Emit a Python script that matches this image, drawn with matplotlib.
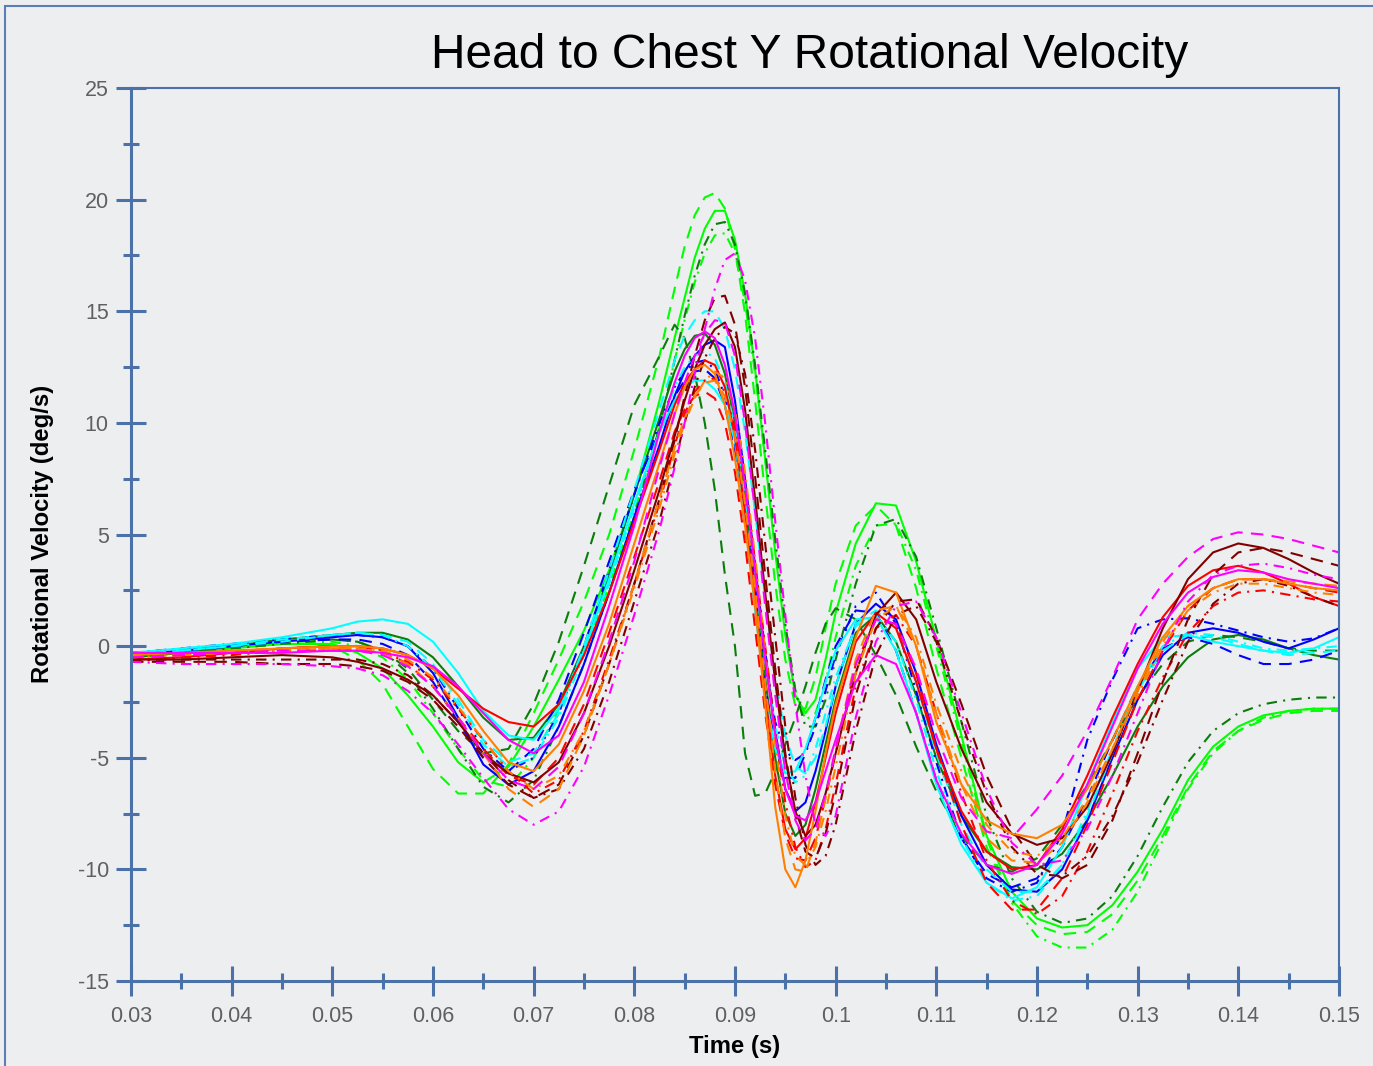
from matplotlib import pyplot as plt
from matplotlib.ticker import MultipleLocator
from matplotlib.patches import Rectangle
import numpy as np

# sample times (s) - denser around the big peak and the trough after it
time = [0.030, 0.035, 0.040, 0.045, 0.050, 0.0525, 0.055, 0.0575, 0.060, 0.0625,
        0.065, 0.0675, 0.070, 0.0725, 0.075, 0.0775, 0.080, 0.0825,
        0.084, 0.085, 0.086, 0.087, 0.088, 0.089, 0.090, 0.091, 0.092, 0.093,
        0.094, 0.095, 0.096, 0.097, 0.098, 0.099, 0.100,
        0.102, 0.104, 0.106, 0.108, 0.110,
        0.1125, 0.115, 0.1175, 0.120, 0.1225, 0.125, 0.1275, 0.130,
        0.1325, 0.135, 0.1375, 0.140, 0.1425, 0.145, 0.1475, 0.150]

# rotational velocity (deg/s), one list per test
lime_solid = [-0.5, -0.3, -0.1, 0.1, 0.1, -0.3, -1.0, -2.2, -3.6, -5.2, -6.1, -5.4, -3.6, -1.5, 0.7, 3.4, 6.8, 11.0,
              13.8, 15.6, 17.4, 18.7, 19.5, 19.5, 18.2, 15.8, 12.4, 8.4, 4.2, 0.5, -2.2, -3.0, -2.4, -0.6, 1.5,
              4.6, 6.4, 6.3, 3.8, 0.3,
              -4.0, -8.5, -11.0, -12.2, -12.6, -12.5, -11.6, -10.1, -8.2, -6.0, -4.5, -3.6, -3.1, -2.9, -2.8, -2.8]
lime_dashed = [-0.4, -0.2, 0.0, 0.2, 0.0, -0.6, -1.7, -3.6, -5.5, -6.6, -6.6, -5.3, -3.0, -0.6, 2.0, 5.0, 8.8, 13.0,
               16.0, 17.9, 19.3, 20.1, 20.3, 19.6, 17.8, 14.9, 11.0, 6.8, 2.8, -0.6, -2.7, -2.8, -1.4, 0.8, 2.8,
               5.4, 6.3, 5.4, 2.6, -1.0,
               -5.0, -9.0, -11.4, -12.5, -12.9, -12.8, -12.0, -10.5, -8.5, -6.3, -4.7, -3.8, -3.3, -3.0, -2.9, -2.9]
lime_dashdot = [-0.5, -0.3, -0.1, 0.1, 0.2, 0.0, -0.5, -1.5, -3.0, -4.6, -6.0, -6.3, -5.0, -2.8, -0.3, 2.7, 6.0, 9.8,
                12.8, 14.6, 16.3, 17.6, 18.4, 18.5, 17.6, 15.4, 12.2, 8.4, 4.4, 0.8, -2.0, -3.3, -3.0, -1.6, 0.4,
                3.6, 5.4, 5.5, 3.4, 0.0,
                -4.3, -8.6, -11.5, -13.0, -13.5, -13.5, -12.7, -11.0, -8.7, -6.4, -4.8, -3.8, -3.2, -2.9, -2.8, -2.8]
dkgreen_solid = [-0.5, -0.3, 0.0, 0.3, 0.5, 0.6, 0.6, 0.3, -0.5, -1.8, -3.2, -4.2, -4.1, -2.6, 0.0, 3.2, 6.8, 10.2,
                 12.3, 13.3, 13.9, 14.0, 13.5, 12.2, 10.0, 6.8, 2.8, -1.4, -5.0, -7.5, -8.5, -8.0, -6.4, -4.4, -2.4,
                 0.6, 1.4, 0.2, -2.2, -5.0,
                 -7.6, -9.2, -9.9, -10.0, -9.3, -7.8, -5.8, -3.6, -1.8, -0.5, 0.3, 0.5, 0.3, -0.1, -0.4, -0.6]
dkgreen_dashed = [-0.5, -0.3, 0.0, 0.2, 0.3, 0.2, -0.2, -1.0, -2.4, -3.8, -4.8, -4.6, -2.6, 0.2, 3.6, 7.2, 10.8, 13.0,
                  14.4, 13.8, 12.2, 10.0, 7.0, 3.2, 0.0, -4.8, -6.7, -6.6, -5.6, -4.4, -3.2, -1.8, -0.3, 1.0, 1.7,
                  1.2, -0.4, -2.2, -4.5, -6.5,
                  -8.5, -9.8, -10.1, -9.5, -8.0, -6.2, -4.2, -2.3, -0.8, 0.2, 0.5, 0.4, 0.2, -0.1, -0.2, -0.2]
dkgreen_dashdot = [-0.5, -0.3, -0.1, 0.1, 0.3, 0.2, -0.2, -1.2, -2.8, -4.6, -6.3, -7.0, -6.0, -3.6, -0.8, 2.4, 5.8, 9.8,
                   12.8, 14.8, 16.6, 18.0, 18.9, 19.0, 18.0, 15.8, 12.6, 8.8, 4.8, 1.0, -2.0, -3.6, -3.6, -2.4, -0.6,
                   2.8, 5.4, 5.7, 4.0, 0.8,
                   -3.4, -7.6, -10.4, -11.9, -12.4, -12.2, -11.2, -9.4, -7.2, -5.2, -3.8, -3.0, -2.6, -2.4, -2.3, -2.3]
blue_solid = [-0.4, -0.2, 0.0, 0.2, 0.4, 0.5, 0.4, 0.0, -1.2, -3.2, -5.3, -6.2, -5.6, -3.6, -0.8, 2.4, 5.8, 9.0,
              11.2, 12.3, 13.0, 13.5, 13.7, 13.4, 11.0, 7.5, 3.6, -0.2, -3.8, -6.4, -7.4, -7.0, -5.6, -3.8, -1.8,
              1.0, 1.9, 1.2, -1.2, -4.4,
              -7.6, -9.8, -10.9, -11.0, -10.0, -7.8, -5.0, -2.4, -0.4, 0.6, 0.8, 0.6, 0.2, -0.1, 0.3, 0.8]
blue_dashed = [-0.4, -0.2, 0.0, 0.2, 0.3, 0.3, 0.1, -0.4, -1.6, -3.4, -5.0, -5.6, -4.6, -2.4, 0.6, 3.8, 7.0, 9.6,
               11.2, 11.9, 12.3, 12.4, 12.0, 10.8, 8.6, 5.4, 1.8, -1.8, -4.5, -5.9, -5.9, -4.8, -3.2, -1.5, 0.0,
               1.6, 1.5, -0.2, -3.0, -6.0,
               -8.6, -10.2, -10.8, -10.4, -9.0, -6.8, -4.2, -1.8, -0.1, 0.4, 0.1, -0.4, -0.8, -0.8, -0.6, -0.2]
blue_dashdot = [-0.3, -0.1, 0.1, 0.3, 0.5, 0.5, 0.4, 0.0, -1.0, -2.8, -4.6, -5.6, -5.0, -3.0, 0.0, 3.4, 6.8, 10.0,
                11.6, 12.3, 12.7, 12.8, 12.4, 11.2, 9.0, 6.0, 2.6, -0.8, -3.4, -4.7, -5.1, -4.8, -3.6, -2.0, -0.4,
                1.8, 2.4, 1.0, -2.0, -5.2,
                -8.6, -10.4, -11.0, -10.6, -8.4, -4.2, -1.5, 0.8, 1.2, 1.25, 1.0, 0.7, 0.4, 0.2, 0.35, 0.8]
cyan_solid = [-0.3, -0.1, 0.1, 0.4, 0.8, 1.1, 1.2, 1.0, 0.2, -1.2, -2.9, -4.0, -4.2, -2.8, -0.2, 3.0, 6.4, 9.6,
              11.0, 11.6, 11.9, 11.9, 11.5, 10.8, 9.2, 5.8, 1.6, -2.2, -4.6, -5.7, -5.6, -4.6, -3.2, -1.6, -0.2,
              1.2, 1.3, -0.2, -3.0, -6.2,
              -8.9, -10.6, -11.3, -10.8, -9.0, -6.2, -3.4, -1.0, 0.4, 0.5, 0.2, 0.0, -0.2, -0.3, -0.1, 0.4]
cyan_dashed = [-0.4, -0.2, 0.0, 0.3, 0.5, 0.6, 0.5, 0.2, -0.8, -2.4, -4.2, -5.2, -4.8, -3.0, 0.0, 3.4, 7.0, 10.6,
               12.8, 13.9, 14.6, 15.0, 15.0, 14.2, 12.4, 9.6, 6.0, 2.2, -1.4, -4.0, -5.4, -5.7, -5.0, -3.6, -1.8,
               1.0, 1.6, 0.8, -1.6, -4.8,
               -8.0, -10.0, -11.0, -11.0, -9.8, -7.6, -4.8, -2.0, -0.2, 0.5, 0.4, 0.1, -0.2, -0.4, -0.3, -0.2]
cyan_dashdot = [-0.4, -0.2, 0.0, 0.2, 0.5, 0.6, 0.5, 0.0, -1.0, -2.6, -4.4, -5.4, -5.0, -3.2, -0.4, 2.8, 6.2, 9.6,
                11.6, 12.5, 13.0, 13.2, 12.9, 11.8, 9.8, 6.8, 3.2, -0.6, -3.6, -5.4, -6.1, -5.8, -4.6, -3.0, -1.4,
                0.9, 1.4, 0.2, -2.4, -5.6,
                -8.6, -10.6, -11.4, -11.2, -9.8, -7.4, -4.6, -1.8, 0.0, 0.6, 0.5, 0.2, -0.1, -0.2, -0.1, 0.0]
red_solid = [-0.6, -0.5, -0.3, -0.1, 0.0, 0.0, -0.1, -0.4, -1.0, -1.9, -2.8, -3.4, -3.6, -2.6, -0.4, 2.4, 5.6, 8.8,
             10.8, 11.8, 12.4, 12.8, 12.6, 11.6, 9.4, 6.0, 2.0, -2.2, -5.8, -8.2, -9.1, -8.6, -7.0, -5.0, -3.0,
             0.2, 1.5, 0.8, -1.6, -4.6,
             -7.4, -9.2, -10.0, -9.8, -8.2, -5.8, -3.2, -0.8, 1.3, 2.7, 3.4, 3.6, 3.3, 2.8, 2.2, 1.8]
red_dashed = [-0.6, -0.4, -0.3, -0.1, 0.0, 0.0, -0.2, -0.8, -1.8, -3.2, -4.6, -5.8, -6.2, -5.0, -2.6, 0.6, 4.0, 7.4,
              9.6, 10.6, 11.2, 11.4, 11.1, 10.0, 7.8, 4.6, 0.8, -3.0, -6.2, -8.4, -9.5, -9.6, -8.6, -6.8, -4.8,
              -0.8, 1.2, 1.0, -1.2, -4.6,
              -8.0, -10.6, -11.8, -11.8, -10.4, -8.0, -5.2, -2.4, -0.2, 1.6, 2.6, 3.0, 3.0, 2.8, 2.6, 2.4]
red_dashdot = [-0.7, -0.5, -0.4, -0.2, -0.2, -0.2, -0.3, -0.7, -1.5, -2.8, -4.2, -5.6, -6.6, -6.0, -3.8, -0.6, 2.8, 6.4,
               9.0, 10.4, 11.4, 11.9, 12.0, 11.4, 9.8, 7.2, 3.8, 0.0, -3.8, -7.0, -9.0, -9.9, -9.6, -8.2, -6.2,
               -1.8, 0.8, 1.4, 0.0, -3.0,
               -6.6, -9.6, -11.4, -12.0, -11.2, -9.2, -6.6, -3.8, -1.4, 0.6, 1.8, 2.4, 2.5, 2.3, 2.1, 2.0]
dkred_solid = [-0.6, -0.6, -0.5, -0.4, -0.5, -0.7, -1.0, -1.5, -2.2, -3.4, -4.8, -5.7, -6.1, -5.2, -3.0, 0.0, 3.4, 7.0,
               9.4, 11.0, 12.4, 13.5, 14.2, 14.5, 13.4, 10.6, 6.6, 2.4, -1.6, -5.0, -7.4, -8.5, -8.0, -6.6, -4.8,
               -1.2, 1.4, 2.4, 1.2, -1.6,
               -4.6, -7.0, -8.4, -8.9, -8.6, -7.2, -4.8, -2.0, 0.8, 3.0, 4.2, 4.6, 4.4, 3.9, 3.3, 2.8]
dkred_dashed = [-0.7, -0.7, -0.7, -0.8, -0.8, -0.9, -1.1, -1.6, -2.4, -3.6, -5.0, -6.2, -6.8, -6.2, -4.0, -0.8, 2.8, 6.6,
                9.2, 11.2, 13.0, 14.6, 15.6, 15.7, 14.4, 11.6, 7.6, 3.2, -1.0, -4.8, -7.6, -9.2, -9.5, -8.4, -6.6,
                -2.2, 0.8, 2.0, 2.1, 0.4,
                -2.6, -5.8, -8.2, -9.8, -10.4, -9.8, -7.8, -4.8, -1.6, 1.2, 3.2, 4.2, 4.4, 4.2, 3.9, 3.6]
dkred_dashdot = [-0.6, -0.6, -0.6, -0.6, -0.6, -0.6, -0.8, -1.3, -2.2, -3.4, -4.8, -6.0, -6.8, -6.4, -4.6, -1.6, 2.0, 5.6,
                 8.2, 10.0, 11.6, 12.9, 13.8, 14.3, 14.0, 12.2, 8.8, 4.6, 0.4, -3.6, -6.8, -8.9, -9.8, -9.4, -8.0,
                 -3.8, -0.4, 1.4, 1.8, 0.2,
                 -3.4, -6.6, -9.0, -10.2, -10.3, -9.4, -7.6, -5.2, -2.4, 0.2, 1.9, 2.8, 3.0, 2.7, 2.2, 1.8]
orange_solid = [-0.4, -0.3, -0.2, -0.1, 0.0, 0.0, -0.1, -0.4, -1.0, -2.2, -3.8, -5.2, -5.6, -4.4, -2.0, 1.0, 4.6, 8.2,
                10.4, 11.6, 12.4, 12.6, 12.2, 10.8, 8.4, 5.4, 1.8, -2.6, -7.2, -10.0, -10.8, -9.6, -7.4, -4.8, -2.6,
                0.4, 2.7, 2.4, 0.0, -3.4,
                -6.2, -7.8, -8.4, -8.6, -8.0, -6.4, -4.2, -1.8, 0.4, 1.8, 2.6, 3.0, 3.0, 2.8, 2.6, 2.5]
orange_dashed = [-0.5, -0.4, -0.2, -0.1, -0.1, -0.1, -0.3, -0.8, -1.8, -3.2, -4.8, -6.4, -7.2, -6.4, -4.0, -0.8, 2.8, 6.6,
                 8.9, 10.2, 11.2, 11.8, 11.9, 11.2, 9.4, 6.4, 2.6, -1.6, -5.6, -8.6, -10.0, -10.1, -8.8, -6.8, -4.6,
                 -0.6, 1.6, 1.8, 0.0, -3.0,
                 -6.2, -8.6, -9.6, -9.7, -8.8, -7.0, -4.6, -2.0, 0.2, 1.8, 2.6, 3.0, 3.0, 2.9, 2.8, 2.7]
orange_dashdot = [-0.5, -0.4, -0.3, -0.2, -0.1, -0.1, -0.2, -0.6, -1.4, -2.7, -4.2, -5.6, -6.4, -5.8, -3.8, -0.8, 2.6, 6.2,
                  8.6, 10.0, 11.1, 11.9, 12.3, 12.0, 10.6, 7.8, 4.0, -0.2, -4.4, -7.6, -9.4, -9.8, -9.0, -7.4, -5.4,
                  -1.2, 1.2, 1.8, 0.4, -2.6,
                  -5.6, -8.0, -9.2, -9.4, -8.6, -6.8, -4.6, -2.2, 0.0, 1.6, 2.4, 2.8, 2.8, 2.6, 2.4, 2.3]
magenta_solid = [-0.3, -0.3, -0.3, -0.3, -0.2, -0.2, -0.3, -0.5, -0.9, -1.8, -3.0, -4.2, -4.8, -4.0, -1.6, 1.8, 5.4, 9.6,
                 11.8, 13.0, 13.8, 14.1, 13.8, 12.6, 10.4, 7.2, 3.4, -0.6, -4.0, -6.4, -7.6, -7.8, -7.0, -5.6, -4.2,
                 -1.6, -0.4, -0.8, -3.0, -6.0,
                 -8.4, -9.8, -10.2, -9.8, -8.4, -6.2, -3.6, -1.0, 1.0, 2.4, 3.1, 3.4, 3.3, 3.0, 2.8, 2.6]
magenta_dashed = [-0.5, -0.4, -0.3, -0.2, -0.2, -0.2, -0.4, -0.9, -1.8, -3.2, -4.8, -6.0, -6.4, -5.4, -3.0, 0.2, 3.8, 8.0,
                  10.4, 11.8, 13.0, 14.0, 14.6, 14.5, 13.0, 10.0, 6.0, 1.8, -2.2, -5.6, -7.8, -8.7, -8.2, -6.6, -4.6,
                  -0.8, 1.2, 1.0, -1.0, -4.0,
                  -6.8, -8.3, -8.6, -7.3, -5.8, -3.8, -1.4, 1.2, 2.8, 4.0, 4.8, 5.1, 5.0, 4.8, 4.5, 4.2]
magenta_dashdot = [-0.7, -0.8, -0.8, -0.8, -0.9, -1.0, -1.3, -2.0, -3.0, -4.4, -5.9, -7.3, -8.0, -7.4, -5.4, -2.2, 1.4, 5.2,
                   8.0, 10.0, 12.2, 14.2, 16.0, 17.3, 17.6, 16.4, 13.8, 10.0, 5.6, 1.4, -2.6, -5.8, -8.0, -8.5, -7.6,
                   -3.2, 0.2, 1.8, 2.0, 0.4,
                   -3.0, -6.4, -8.8, -9.8, -9.6, -8.2, -5.8, -3.0, -0.2, 2.0, 3.2, 3.6, 3.7, 3.5, 3.2, 3.0]

x_tick_labels = ["0.03", "0.04", "0.05", "0.06", "0.07", "0.08", "0.09", "0.1",
                 "0.11", "0.12", "0.13", "0.14", "0.15"]
y_tick_labels = ["-15", "-10", "-5", "0", "5", "10", "15", "20", "25"]

BG = "#edeef0"
AXIS_BLUE = "#4a72a8"
DASHED = (0, (6, 4))
DASHDOT = (0, (5, 3, 1, 3))


def main():
    plt.rcParams["font.family"] = ["Liberation Sans", "DejaVu Sans"]

    curves = [
        (lime_solid, "#00ff00", "-"), (lime_dashed, "#00ff00", DASHED), (lime_dashdot, "#00ff00", DASHDOT),
        (dkgreen_solid, "#0a7d0a", "-"), (dkgreen_dashed, "#0a7d0a", DASHED), (dkgreen_dashdot, "#0a7d0a", DASHDOT),
        (blue_solid, "#0000ff", "-"), (blue_dashed, "#0000ff", DASHED), (blue_dashdot, "#0000ff", DASHDOT),
        (cyan_solid, "#00ffff", "-"), (cyan_dashed, "#00ffff", DASHED), (cyan_dashdot, "#00ffff", DASHDOT),
        (red_solid, "#ff0000", "-"), (red_dashed, "#ff0000", DASHED), (red_dashdot, "#ff0000", DASHDOT),
        (dkred_solid, "#800000", "-"), (dkred_dashed, "#800000", DASHED), (dkred_dashdot, "#800000", DASHDOT),
        (orange_solid, "#ff8000", "-"), (orange_dashed, "#ff8000", DASHED), (orange_dashdot, "#ff8000", DASHDOT),
        (magenta_solid, "#ff00ff", "-"), (magenta_dashed, "#ff00ff", DASHED), (magenta_dashdot, "#ff00ff", DASHDOT),
    ]

    fig = plt.figure(figsize=(13.73, 10.66), dpi=100, facecolor=BG)
    ax = fig.add_axes([0.0954, 0.0797, 0.8798, 0.8377], facecolor=BG)

    for values, color, style in curves:
        if len(values) != len(time):
            raise ValueError("series length does not match time")
        ax.plot(time, values, color=color, linestyle=style, linewidth=1.5)

    ax.set_xlim(0.03, 0.15)
    ax.set_ylim(-15, 25)
    ax.set_xticks(np.linspace(0.03, 0.15, len(x_tick_labels)))
    ax.set_xticklabels(x_tick_labels)
    ax.set_yticks(np.linspace(-15, 25, len(y_tick_labels)))
    ax.set_yticklabels(y_tick_labels)
    ax.xaxis.set_minor_locator(MultipleLocator(0.005))
    ax.yaxis.set_minor_locator(MultipleLocator(2.5))

    ax.tick_params(which="both", direction="inout", color=AXIS_BLUE, width=2.2,
                   labelcolor="#606060", labelsize=15.5, top=False, right=False)
    ax.tick_params(which="major", length=22)
    ax.tick_params(which="minor", length=12)
    ax.tick_params(axis="x", which="major", pad=7)
    ax.tick_params(axis="y", which="major", pad=5)

    for side in ["left", "bottom"]:
        ax.spines[side].set_color(AXIS_BLUE)
        ax.spines[side].set_linewidth(2.2)
    for side in ["top", "right"]:
        ax.spines[side].set_color(AXIS_BLUE)
        ax.spines[side].set_linewidth(1.5)

    fig.text(0.59, 0.936, "Head to Chest Y Rotational Velocity", fontsize=34.5,
             ha="center", va="baseline", color="black")
    fig.text(0.535, 0.012, "Time (s)", fontsize=17.2, fontweight="bold",
             ha="center", va="baseline")
    fig.text(0.031, 0.499, "Rotational Velocity (deg/s)", fontsize=17.2,
             fontweight="bold", rotation=90, ha="center", va="center")

    # frame around the whole figure
    fig.patches.append(Rectangle((0.0036, -0.05), 1.2, 1.0444, transform=fig.transFigure,
                                 fill=False, edgecolor="#5b7db5", linewidth=1.5))

    fig.savefig("out.png", dpi=100, facecolor=BG)


if __name__ == "__main__":
    main()
